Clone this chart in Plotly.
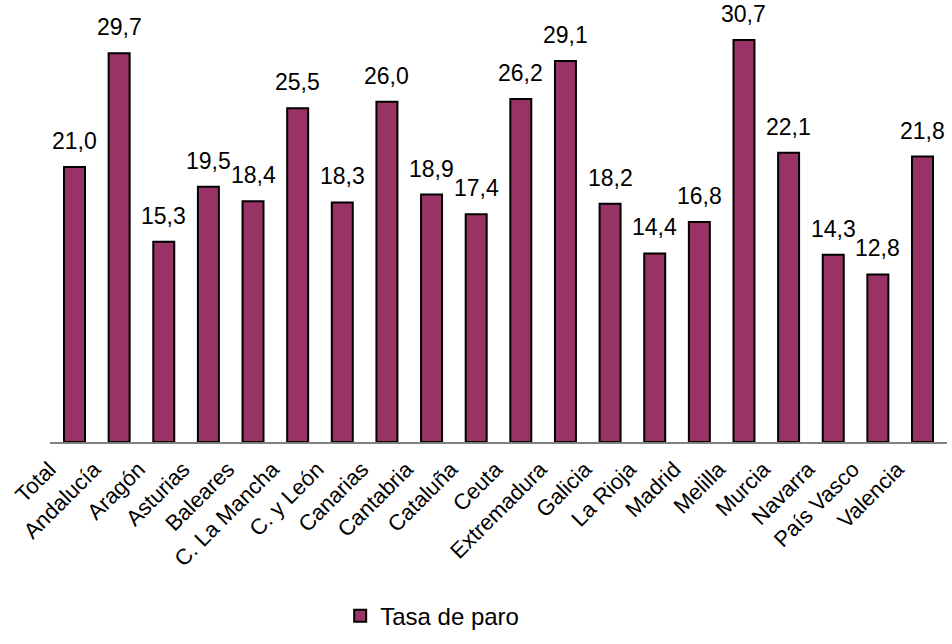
import plotly.graph_objects as go

categories = ["Total", "Andalucía", "Aragón", "Asturias", "Baleares", "C. La Mancha",
              "C. y León", "Canarias", "Cantabria", "Cataluña", "Ceuta", "Extremadura",
              "Galicia", "La Rioja", "Madrid", "Melilla", "Murcia", "Navarra",
              "País Vasco", "Valencia"]
tasa_paro = [21.0, 29.7, 15.3, 19.5, 18.4, 25.5, 18.3, 26.0, 18.9, 17.4, 26.2, 29.1,
             18.2, 14.4, 16.8, 30.7, 22.1, 14.3, 12.8, 21.8]
series_name = "Tasa de paro"

labels = [f"{v:.1f}".replace(".", ",") for v in tasa_paro]

FONT = "Liberation Sans, Arial, sans-serif"

fig = go.Figure()
fig.add_trace(go.Bar(
    x=categories, y=tasa_paro, name=series_name,
    marker=dict(color="#993366", line=dict(color="#000000", width=2)),
    showlegend=True,
))

for c, v, t in zip(categories, tasa_paro, labels):
    fig.add_annotation(x=c, y=v, text=t, showarrow=False, yanchor="bottom",
                       yshift=11, font=dict(family=FONT, size=23, color="#000000"))

fig.update_layout(
    width=952, height=644,
    margin=dict(l=50, r=5, t=10, b=187),
    plot_bgcolor="white", paper_bgcolor="white",
    bargap=0.53,
    font=dict(family=FONT, size=22, color="#000000"),
    showlegend=True,
    legend=dict(orientation="h", x=0.3235, xanchor="left", y=-0.403, yanchor="middle",
                itemwidth=30,
                font=dict(family=FONT, size=24, color="#000000")),
    xaxis=dict(showline=True, linecolor="#808080", linewidth=1.5, ticks="",
               tickangle=-45, tickfont=dict(family=FONT, size=22, color="#000000"),
               showgrid=False, automargin=False, ticklabelshift=-25, ticklabelstandoff=4),
    yaxis=dict(range=[0, 33.0], visible=False, showgrid=False, zeroline=False),
)

fig.write_html("out.html",
               config={"displayModeBar": False},
               post_script="document.body.style.margin='0';document.body.style.overflow='hidden';")
